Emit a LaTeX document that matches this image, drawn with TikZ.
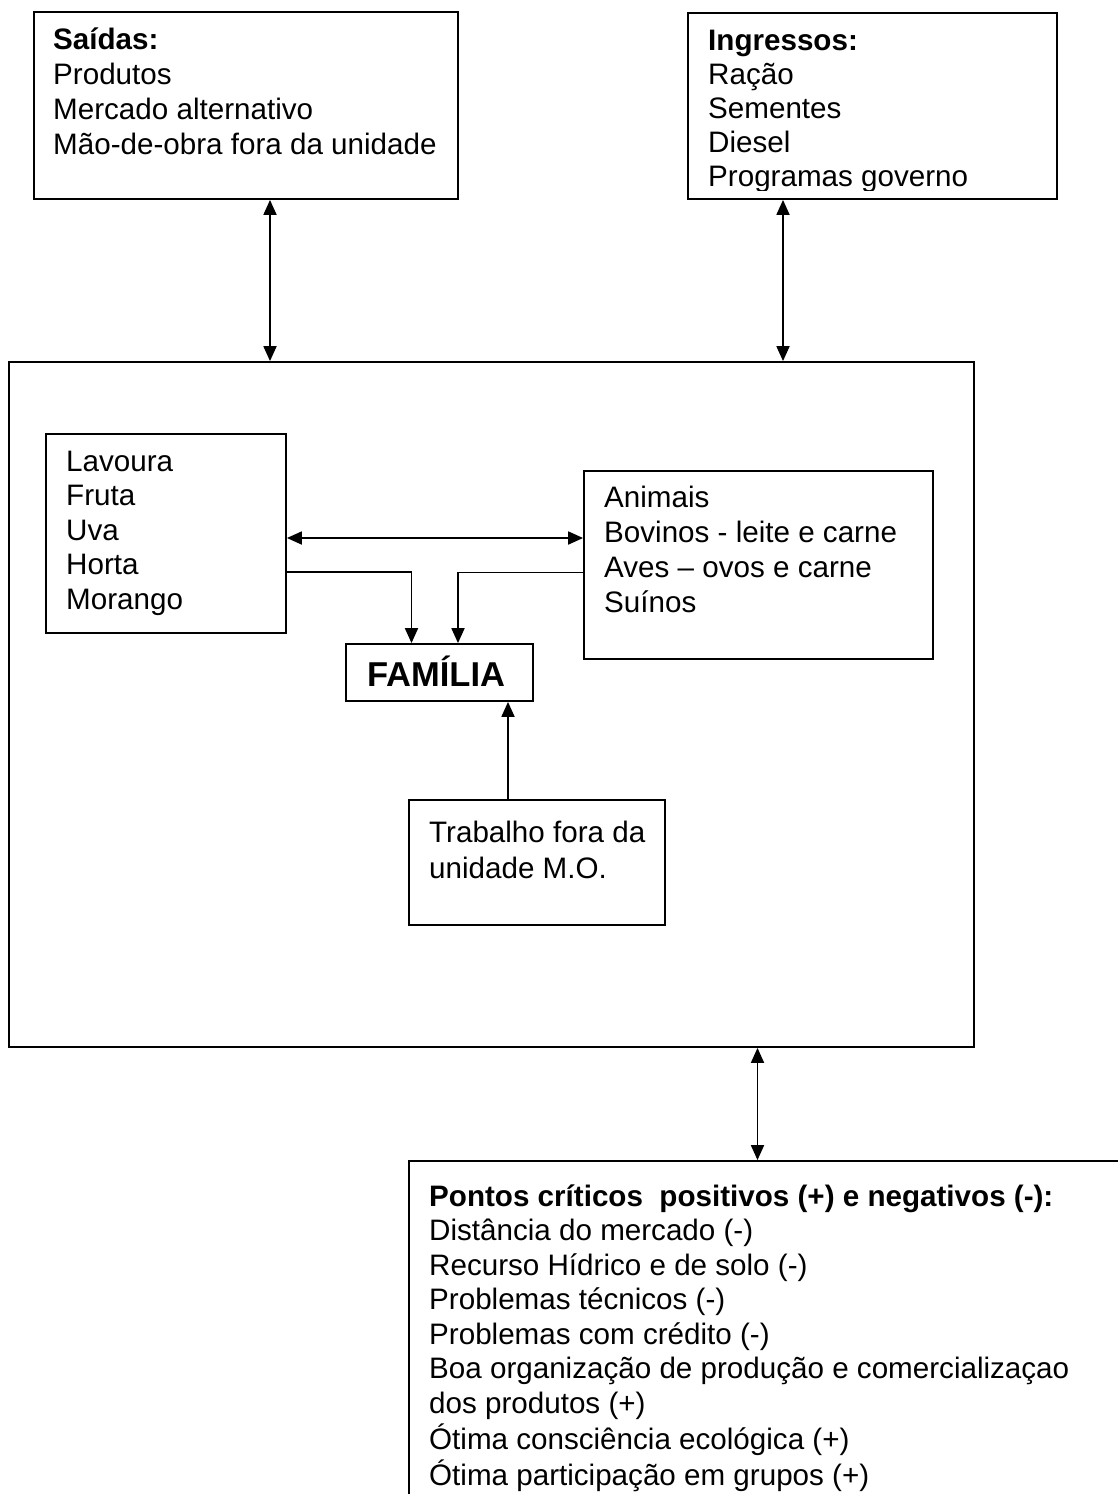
\documentclass[tikz,border=0pt]{standalone}
\usepackage{fontspec}
\setmainfont{Liberation Sans}
\usetikzlibrary{arrows.meta,calc}

% left-aligned block of lines, anchored at the baseline of its first line
\newcommand{\linesblock}[2]{{\fontsize{29.6}{#1}\selectfont\begin{tabular}[t]{@{}l@{}}#2\end{tabular}}}

\tikzset{
  box/.style={draw, line width=1.8pt, inner sep=0pt},
  txt/.style={anchor=base west, inner sep=0pt},
  tip/.style={Triangle[length=15pt,width=13pt]},
  dbl/.style={line width=1.8pt, {Triangle[length=15pt,width=13pt]}-{Triangle[length=15pt,width=13pt]}},
  one/.style={line width=1.8pt, -{Triangle[length=15pt,width=13pt]}},
}

\begin{document}
\begin{tikzpicture}[x=1pt,y=-1pt]
  \path[use as bounding box, fill=white] (0,0) rectangle (1118,1494);
  \clip (0,0) rectangle (1118,1494);

  % outer boxes
  \node[box, minimum width=424pt, minimum height=187pt] (saidas) at (246,105.5) {};
  \node[box, minimum width=369pt, minimum height=186pt] (ingressos) at (872.5,106) {};
  \node[box, minimum width=965pt, minimum height=685pt] (main) at (491.5,704.5) {};
  \node[box, minimum width=731pt, minimum height=359pt] (pontos) at (774.5,1340.5) {};

  % boxes inside the farm unit
  \node[box, minimum width=240pt, minimum height=199pt] (lavoura) at (166,533.5) {};
  \node[box, minimum width=349pt, minimum height=188pt] (animais) at (758.5,565) {};
  \node[box, minimum width=187pt, minimum height=57pt] (familia) at (439.5,672.5) {};
  \node[box, minimum width=256pt, minimum height=125pt] (trabalho) at (537,862.5) {};

  % texts
  \node[txt] (saidasTxt) at (53,49) {\linesblock{35}{\textbf{Saídas:}\\Produtos\\Mercado alternativo\\Mão-de-obra fora da unidade}};
  \begin{scope}
    \clip (688,0) rectangle (1057,190);
    \node[txt] (ingressosTxt) at (708,50) {\linesblock{34}{\textbf{Ingressos:}\\Ração\\Sementes\\Diesel\\Programas governo}};
  \end{scope}
  \node[txt] (lavouraTxt) at (66,471) {\linesblock{34.5}{Lavoura\\Fruta\\Uva\\Horta\\Morango}};
  \node[txt] (animaisTxt) at (604,507) {\linesblock{35}{Animais\\Bovinos - leite e carne\\Aves – ovos e carne\\Suínos}};
  \node[anchor=base, inner sep=0pt] (familiaTxt) at (436,686) {\fontsize{34.5}{40}\selectfont\bfseries FAMÍLIA};
  \node[txt] (trabalhoTxt) at (429,842) {\linesblock{36}{Trabalho fora da\\unidade M.O.}};
  \node[txt] (pontosTxt) at (429,1206) {\linesblock{34.5}{\textbf{Pontos críticos~ positivos (+) e negativos (-):}\\Distância do mercado (-)\\Recurso Hídrico e de solo (-)\\Problemas técnicos (-)\\Problemas com crédito (-)\\Boa organização de produção e comercializaçao\\dos produtos (+)\\Ótima consciência ecológica (+)\\Ótima participação em grupos (+)}};

  % connectors
  \draw[dbl] (saidas.south -| 270,0) -- (main.north -| 270,0);
  \draw[dbl] (ingressos.south -| 783,0) -- (main.north -| 783,0);
  \draw[dbl] (main.south -| 757.5,0) -- (pontos.north -| 757.5,0);
  \draw[dbl] (lavoura.east |- 0,538) -- (animais.west |- 0,538);
  \draw[one] (lavoura.east |- 0,572) -| (familia.north -| 411.5,0);
  \draw[one] (animais.west |- 0,572.5) -| (familia.north -| 458,0);
  \draw[one] (trabalho.north -| 508,0) -- (familia.south -| 508,0);
\end{tikzpicture}
\end{document}
